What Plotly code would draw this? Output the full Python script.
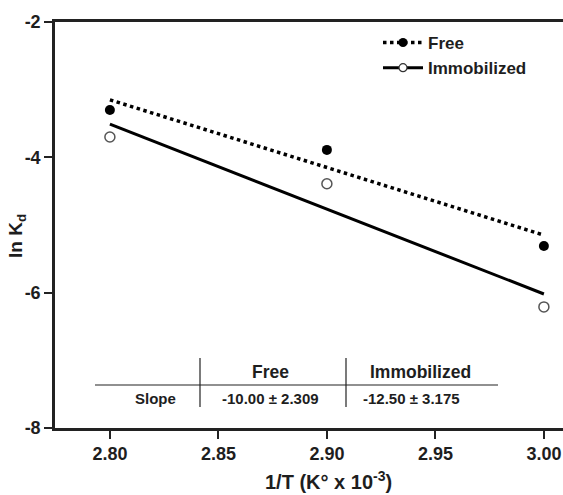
import plotly.graph_objects as go

# Data
x_vals = [2.80, 2.90, 3.00]
free_lnkd = [-3.30, -3.89, -5.31]
immob_lnkd = [-3.70, -4.39, -6.21]
fit_x = [2.80, 3.00]
free_fit = [-3.15, -5.15]
immob_fit = [-3.51, -6.02]

x_tickvals = [2.80, 2.85, 2.90, 2.95, 3.00]
x_ticktext = ["2.80", "2.85", "2.90", "2.95", "3.00"]
y_tickvals = [-2, -4, -6, -8]
y_ticktext = ["-2", "-4", "-6", "-8"]

table_headers = ["Free", "Immobilized"]
table_row = ["Slope", "-10.00 ± 2.309", "-12.50 ± 3.175"]

FONT = "Liberation Sans, Arial, sans-serif"
INK = "#1e1e1e"

fig = go.Figure()

fig.add_trace(go.Scatter(
    x=fit_x, y=free_fit, mode="lines", line=dict(color="black", width=3.5, dash="dot"),
    showlegend=False, hoverinfo="skip"))
fig.add_trace(go.Scatter(
    x=fit_x, y=immob_fit, mode="lines", line=dict(color="black", width=3),
    showlegend=False, hoverinfo="skip"))
fig.add_trace(go.Scatter(
    x=x_vals, y=free_lnkd, mode="markers", name="Free",
    marker=dict(symbol="circle", size=10, color="black"), showlegend=False))
fig.add_trace(go.Scatter(
    x=x_vals, y=immob_lnkd, mode="markers", name="Immobilized",
    marker=dict(symbol="circle-open", size=10, color="#555555", line=dict(width=1.5)),
    showlegend=False))

# Legend-only traces
fig.add_trace(go.Scatter(
    x=[None], y=[None], mode="lines+markers", name="Free",
    line=dict(color="black", width=3.5, dash="dot"),
    marker=dict(symbol="circle", size=9, color="black")))
fig.add_trace(go.Scatter(
    x=[None], y=[None], mode="lines+markers", name="Immobilized",
    line=dict(color="black", width=3),
    marker=dict(symbol="circle", size=8, color="white", line=dict(color="#333333", width=1.2))))

def px_x(p):
    return (p - 55) / 508.0

def px_y(p):
    return (428 - p) / 406.0

shapes = [
    dict(type="line", xref="paper", yref="paper", x0=px_x(95), x1=px_x(498), y0=px_y(385), y1=px_y(385),
         line=dict(color="#222222", width=1.2)),
    dict(type="line", xref="paper", yref="paper", x0=px_x(200), x1=px_x(200), y0=px_y(358), y1=px_y(407),
         line=dict(color="#222222", width=1.2)),
    dict(type="line", xref="paper", yref="paper", x0=px_x(346), x1=px_x(346), y0=px_y(358), y1=px_y(407),
         line=dict(color="#222222", width=1.2)),
]

def ann(text, x, y, size, angle=0):
    return dict(text=text, xref="paper", yref="paper", x=px_x(x), y=px_y(y), showarrow=False,
                textangle=angle, font=dict(family=FONT, size=size, color=INK, weight="bold"),
                xanchor="center", yanchor="middle")

annotations = [
    ann(table_headers[0], 270, 372, 17.5),
    ann(table_headers[1], 420, 372, 17.5),
    ann(table_row[0], 155, 398, 15),
    ann(table_row[1], 270, 398, 15),
    ann(table_row[2], 411, 398, 15),
    ann("1/T (K° x 10<sup>-3</sup>)", 328, 480, 20),
    ann("ln K<sub>d</sub>", 17, 236, 19, -90),
]

fig.update_layout(
    width=563, height=495,
    margin=dict(l=55, r=0, t=22, b=67),
    paper_bgcolor="white", plot_bgcolor="white",
    font=dict(family=FONT, size=15, color=INK, weight="bold"),
    shapes=shapes, annotations=annotations,
    legend=dict(x=px_x(378), y=px_y(25), xanchor="left", yanchor="top",
                font=dict(family=FONT, size=17, color=INK, weight="bold"),
                bgcolor="rgba(0,0,0,0)", itemwidth=40),
    xaxis=dict(range=[2.7747, 3.0088], showgrid=False, zeroline=False,
               showline=True, linecolor="#222222", linewidth=2.5, mirror=True,
               ticks="outside", ticklen=8, tickwidth=2, tickcolor="#222222",
               tickvals=x_tickvals, ticktext=x_ticktext,
               tickfont=dict(family=FONT, size=18, color=INK, weight="bold")),
    yaxis=dict(range=[-8, -2], showgrid=False, zeroline=False,
               showline=True, linecolor="#222222", linewidth=2.5,
               ticks="outside", ticklen=8, tickwidth=2, tickcolor="#222222",
               tickvals=y_tickvals, ticktext=y_ticktext,
               tickfont=dict(family=FONT, size=18, color=INK, weight="bold")),
)

fig.write_html("out.html")
